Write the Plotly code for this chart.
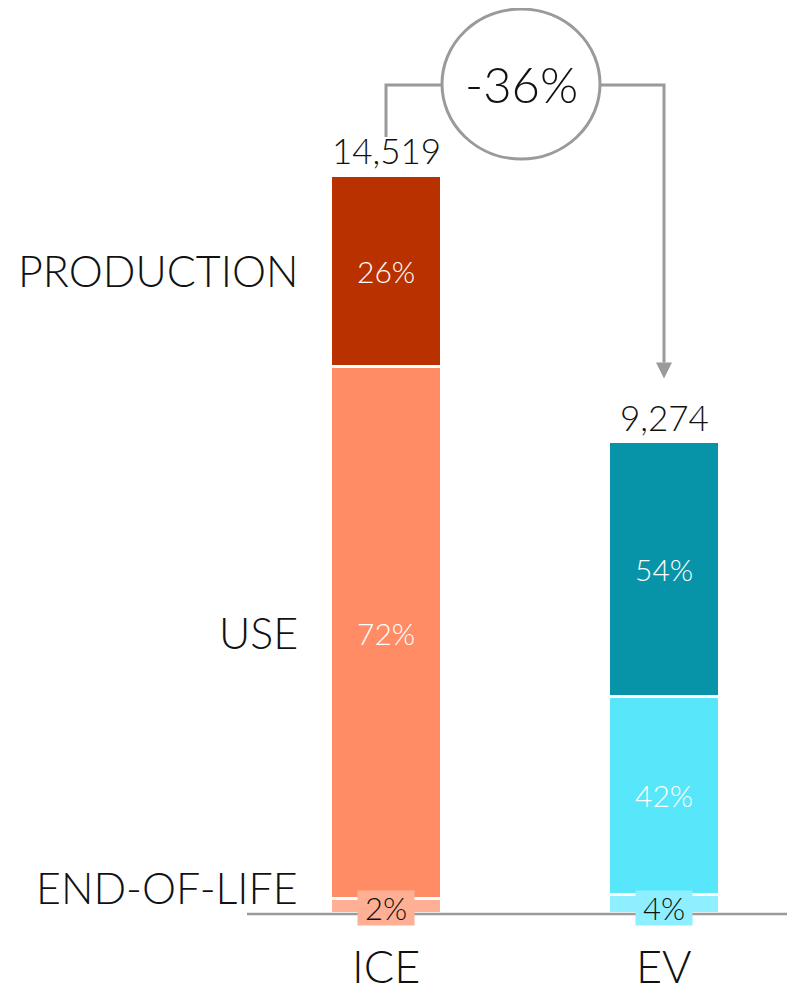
import plotly.graph_objects as go

# ---------------- data ----------------
vehicles = ["ICE", "EV"]
totals = [14519, 9274]
total_labels = ["14,519", "9,274"]
stages = ["END-OF-LIFE", "USE", "PRODUCTION"]          # bottom -> top
shares = {                                             # percent of total
    "END-OF-LIFE": [2, 4],
    "USE": [72, 42],
    "PRODUCTION": [26, 54],
}
change_label = "-36%"

colors = {
    "END-OF-LIFE": ["#FFAF94", "#8DEFFF"],
    "USE": ["#FF8C64", "#57E6FA"],
    "PRODUCTION": ["#BA3100", "#0794A8"],
}

FONT = "Lato"
FW = 300
W, H = 795, 985
OFF = 8                   # page body margin in the browser
BASE_PX = 913             # pixel row of the zero line
PX_PER_UNIT = 738 / 14519
BAR_SPACING_PX = 278
ICE_PX = 386


def y_at(py):
    return (BASE_PX - py) / PX_PER_UNIT


def x_at(px):
    return (px - ICE_PX) / BAR_SPACING_PX


def fnt(size, color="#111111"):
    return dict(family=FONT, size=size, color=color, weight=FW)


values = {s: [t * p / 100 for t, p in zip(totals, shares[s])] for s in stages}

fig = go.Figure()
bar_w = (108 + 3) / BAR_SPACING_PX
for s in stages:
    fig.add_trace(go.Bar(
        x=[0, 1], y=values[s], width=bar_w,
        marker=dict(color=colors[s], line=dict(color="white", width=3)),
        hoverinfo="skip", showlegend=False,
    ))

ann = []
for i in range(2):
    cum = 0
    for s in stages:
        v = values[s][i]
        mid = cum + v / 2
        cum += v
        if s == "END-OF-LIFE":
            ann.append(dict(x=i, y=y_at(908), text=f"{shares[s][i]}%", showarrow=False,
                            font=fnt(31), bgcolor=colors[s][i], borderpad=0,
                            width=56, height=34))
        else:
            ann.append(dict(x=i, y=mid, text=f"{shares[s][i]}%", showarrow=False,
                            font=fnt(30, "#FFFFFF")))
    ann.append(dict(x=i, y=totals[i], text=total_labels[i], showarrow=False,
                    yanchor="bottom", yshift=2, font=fnt(35)))
    ann.append(dict(x=i, y=y_at(966), text=vehicles[i], showarrow=False, font=fnt(45)))

# stage labels on the left, aligned with ICE segments
cum = 0
stage_mid = {}
for s in stages:
    stage_mid[s] = cum + values[s][0] / 2
    cum += values[s][0]
for s in stages:
    yv = stage_mid[s] if s != "END-OF-LIFE" else y_at(887)
    ann.append(dict(x=x_at(300), y=yv, text=s, showarrow=False, xanchor="right", font=fnt(43)))

cx, cy = x_at(521), y_at(84)
ann.append(dict(x=cx, y=cy, text=change_label, showarrow=False, font=fnt(49)))

GRAY = "#9A9A9A"
shapes = []
shapes.append(dict(type="line", x0=x_at(247), x1=x_at(800), y0=y_at(914), y1=y_at(914),
                   line=dict(color=GRAY, width=2.5)))
shapes.append(dict(type="circle", x0=x_at(442), x1=x_at(600), y0=y_at(159), y1=y_at(9),
                   line=dict(color=GRAY, width=3), fillcolor="rgba(0,0,0,0)"))
y_conn = y_at(85)
shapes.append(dict(type="path",
                   path=f"M 0 {totals[0] + 38 / PX_PER_UNIT} L 0 {y_conn} L {x_at(442)} {y_conn}",
                   line=dict(color=GRAY, width=3)))
tip_y = totals[1] + 63 / PX_PER_UNIT
head_top = tip_y + 16 / PX_PER_UNIT
shapes.append(dict(type="path",
                   path=f"M {x_at(600)} {y_conn} L 1 {y_conn} L 1 {head_top}",
                   line=dict(color=GRAY, width=3)))
hw = 8 / BAR_SPACING_PX
shapes.append(dict(type="path",
                   path=f"M {1 - hw} {head_top} L {1 + hw} {head_top} L 1 {tip_y} Z",
                   fillcolor=GRAY, line=dict(color=GRAY, width=0)))

fig.update_layout(
    width=W, height=H, autosize=False,
    margin=dict(l=0, r=0, t=0, b=0),
    paper_bgcolor="white", plot_bgcolor="white",
    barmode="stack",
    xaxis=dict(range=[x_at(OFF), x_at(W + OFF)], visible=False, fixedrange=True),
    yaxis=dict(range=[y_at(H + OFF), y_at(OFF)], visible=False, fixedrange=True),
    annotations=ann, shapes=shapes,
)

fig.write_html("out.html")
